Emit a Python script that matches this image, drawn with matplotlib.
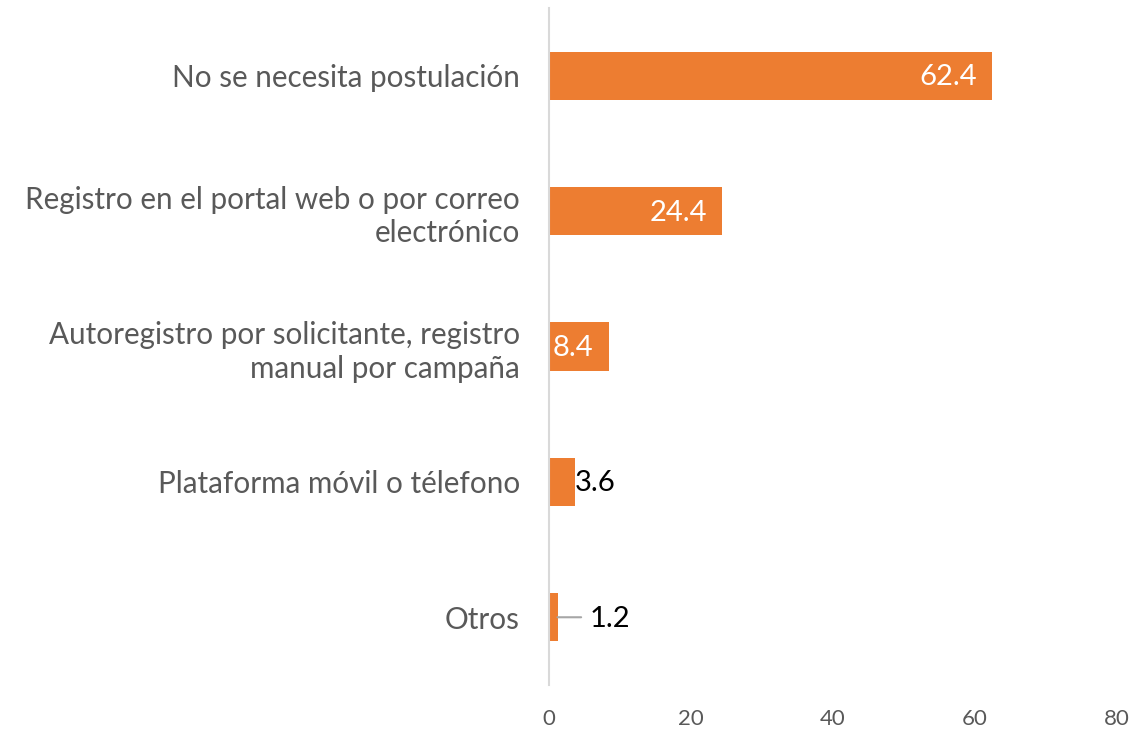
import matplotlib.pyplot as plt

categories = ["No se necesita postulación",
              "Registro en el portal web o por correo\nelectrónico",
              "Autoregistro por solicitante, registro\nmanual por campaña",
              "Plataforma móvil o télefono",
              "Otros"]
values = [62.4, 24.4, 8.4, 3.6, 1.2]
xticks = [0, 20, 40, 60, 80]

plt.rcParams['font.family'] = ['Lato', 'DejaVu Sans']

fig = plt.figure(figsize=(11.4, 7.31), dpi=100)
ax = fig.add_axes([0.4816, 0.063, 0.498, 0.926])

ypos = list(range(len(categories)))
bars = ax.barh(ypos, values, height=0.355, color='#ED7D31')
ax.set_ylim(len(categories) - 0.5, -0.5)
ax.set_xlim(0, 80)
ax.set_yticks(ypos)
ax.set_yticklabels(categories, fontsize=21.3, color='#595959', linespacing=1.25)
ax.set_xticks(xticks)
ax.set_xticklabels([str(t) for t in xticks], fontsize=16, color='#595959')
ax.tick_params(axis='both', length=0)
ax.tick_params(axis='y', pad=21)
ax.tick_params(axis='x', pad=17)

for s in ['top', 'right', 'bottom']:
    ax.spines[s].set_visible(False)
ax.spines['left'].set_color('#d9d9d9')
ax.spines['left'].set_linewidth(1.5)

# data labels
for y, v in zip(ypos, values):
    if v > 5:
        ax.annotate(f"{v}", (v, y), xytext=(-11, -1), textcoords='offset points',
                    ha='right', va='center', color='white', fontsize=21)
    elif v > 2:
        ax.annotate(f"{v}", (v, y), xytext=(0, -1), textcoords='offset points',
                    ha='left', va='center', color='black', fontsize=21)
    else:
        ax.annotate(f"{v}", (v, y), xytext=(23, -1), textcoords='offset points',
                    ha='left', va='center', color='black', fontsize=21)
        ax.annotate("", (v, y), xytext=(17, 0), textcoords='offset points',
                    arrowprops=dict(arrowstyle='-', color='#a6a6a6', lw=1.5,
                                    shrinkA=0, shrinkB=0))

fig.savefig('out.png', dpi=100)
